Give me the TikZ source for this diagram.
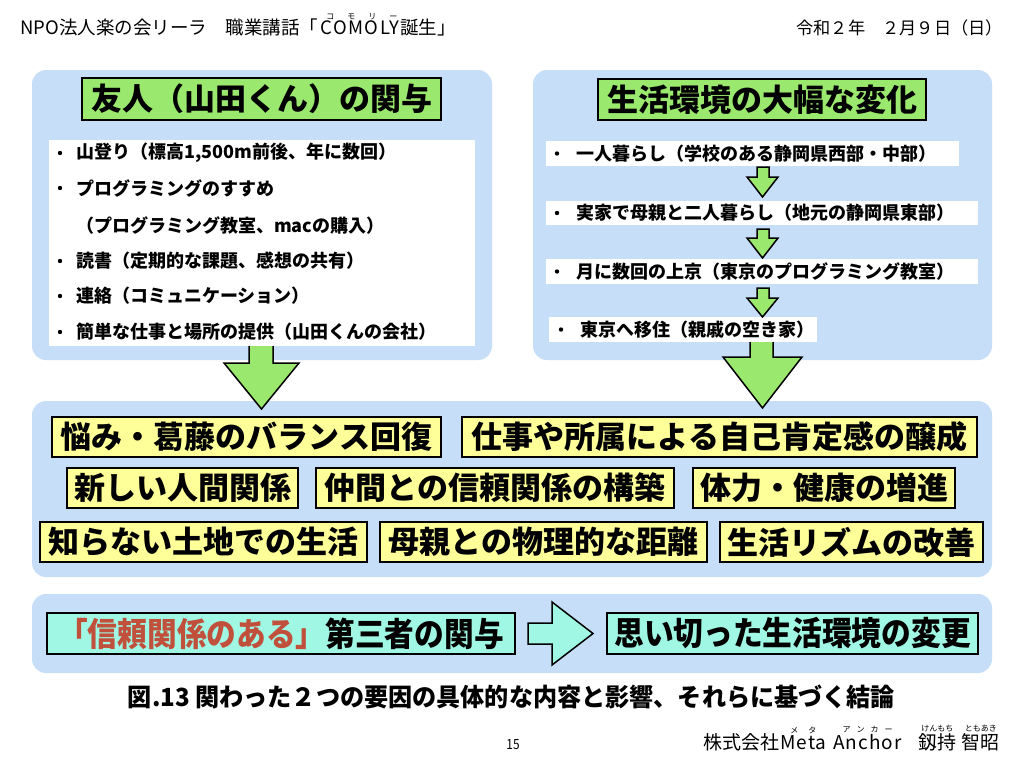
\documentclass[tikz,border=0pt]{standalone}
\usepackage{fontspec}
\setmainfont{Noto Sans CJK JP}
\usetikzlibrary{calc}
\definecolor{bluebg}{RGB}{198,222,247}
\definecolor{greenfill}{RGB}{155,232,110}
\definecolor{yel}{RGB}{255,255,153}
\definecolor{aqua}{RGB}{160,248,228}
\definecolor{redtxt}{RGB}{192,80,60}
\tikzset{
  panel/.style={fill=bluebg, rounded corners=14pt},
  titlebox/.style={draw=black, line width=2pt, fill=greenfill, inner sep=0pt, font=\bfseries\fontsize{31}{31}\selectfont},
  item/.style={anchor=west, inner sep=0pt, font=\bfseries\fontsize{18}{18}\selectfont},
  bul/.style={fill=black},
  ybox/.style={draw=black, line width=1.8pt, fill=yel, inner sep=0pt, minimum height=40pt, font=\bfseries\fontsize{31}{31}\selectfont},
  abox/.style={draw=black, line width=1.8pt, fill=aqua, inner sep=0pt, minimum height=41pt, font=\bfseries\fontsize{33}{33}\selectfont},
  garrow/.style={fill=greenfill, draw=black, line width=1.5pt, line join=miter},
  hdr/.style={inner sep=0pt, font=\fontsize{18.5}{18.5}\selectfont},
  datestyle/.style={inner sep=0pt, font=\fontsize{17.2}{17.2}\selectfont},
  foot/.style={inner sep=0pt, font=\fontsize{19}{19}\selectfont},
  ruby/.style={inner sep=1pt, font=\fontsize{8}{8}\selectfont},
}
\begin{document}
\begin{tikzpicture}[x=1pt,y=-1pt]
\useasboundingbox[fill=white] (0,0) rectangle (1024,768);

% header
\node[hdr, anchor=base west] (h1) at (20,35) {NPO法人楽の会リーラ　職業講話「};
\node[hdr, anchor=base west] (h2) at ($(h1.base east)+(2,0)$) {\addfontfeature{LetterSpace=8}COMOLY};
\node[hdr, anchor=base west] (h3) at (h2.base east) {誕生」};
\node[ruby, anchor=south west] (hr) at ($(h2.north west)+(5,0)$) {コ\hspace{13pt}モ\hspace{13pt}リ\hspace{13pt}ー};
\node[datestyle, anchor=base east] (date) at (1003,35) {令和２年　２月９日（日）};

% panels
\fill[panel] (32,70) rectangle (492,360);
\fill[panel] (533,70) rectangle (992,360);
\fill[panel] (32,401) rectangle (992,577);
\fill[panel] (32,594) rectangle (992,673);

% left panel
\node[titlebox, minimum width=359pt, minimum height=42pt] (t1) at (261.5,99) {友人（山田くん）の関与};
\fill[white] (49,140) rectangle (475,346);
\foreach \y in {153,188,261,296,332} \fill[bul] (60,\y) circle (2.2);
\node[item] (l1) at (76,153) {山登り（標高1,500m前後、年に数回）};
\node[item] (l2) at (76,188) {プログラミングのすすめ};
\node[item] (l3) at (76,226) {（プログラミング教室、macの購入）};
\node[item] (l4) at (76,261) {読書（定期的な課題、感想の共有）};
\node[item] (l5) at (76,296) {連絡（コミュニケーション）};
\node[item] (l6) at (76,332) {簡単な仕事と場所の提供（山田くんの会社）};

% right panel
\node[titlebox, minimum width=328pt, minimum height=41pt] (t2) at (762,99.5) {生活環境の大幅な変化};
\fill[white] (546,141) rectangle (959,166);
\fill[white] (546,201) rectangle (978,225);
\fill[white] (546,259) rectangle (978,284);
\fill[white] (549,317) rectangle (817,342);
\fill[bul] (557,153.5) circle (2.2);
\fill[bul] (557,213) circle (2.2);
\fill[bul] (557,271.5) circle (2.2);
\fill[bul] (561,329.5) circle (2.2);
\node[item] (r1) at (576,153.5) {一人暮らし（学校のある静岡県西部・中部）};
\node[item] (r2) at (576,213) {実家で母親と二人暮らし（地元の静岡県東部）};
\node[item] (r3) at (576,271.5) {月に数回の上京（東京のプログラミング教室）};
\node[item] (r4) at (580,329.5) {東京へ移住（親戚の空き家）};

% small arrows
\foreach \t/\b/\p in {167/177/197, 229/238/258, 288/298/317}
  \draw[garrow] (757,\t) -- (769,\t) -- (769,\b) -- (778,\b) -- (762.5,\p) -- (747,\b) -- (757,\b) -- cycle;

% big arrows
\fill[greenfill] (249,346) -- (249,363) -- (224,363) -- (261.5,409) -- (299,363) -- (273,363) -- (273,346) -- cycle;
\draw[garrow, fill=none] (249,346) -- (249,363) -- (224,363) -- (261.5,409) -- (299,363) -- (273,363) -- (273,346);
\fill[greenfill] (750,342) -- (750,357) -- (723,357) -- (762.5,408) -- (802,357) -- (773,357) -- (773,342) -- cycle;
\draw[garrow, fill=none] (750,342) -- (750,357) -- (723,357) -- (762.5,408) -- (802,357) -- (773,357) -- (773,342);

% yellow boxes
\node[ybox, minimum width=389pt] (y1) at (246.5,437) {悩み・葛藤のバランス回復};
\node[ybox, minimum width=515pt] (y2) at (719.5,437) {仕事や所属による自己肯定感の醸成};
\node[ybox, minimum width=231pt] (y3) at (182.5,488) {新しい人間関係};
\node[ybox, minimum width=358pt] (y4) at (495,488) {仲間との信頼関係の構築};
\node[ybox, minimum width=262pt] (y5) at (824,488) {体力・健康の増進};
\node[ybox, minimum width=327pt] (y6) at (203.5,542) {知らない土地での生活};
\node[ybox, minimum width=327pt] (y7) at (543.5,542) {母親との物理的な距離};
\node[ybox, minimum width=263pt] (y8) at (851.5,542) {生活リズムの改善};

% bottom
\node[abox, minimum width=468pt] (c1) at (281,633.5) {\scalebox{0.9}[1]{\textcolor{redtxt}{「信頼関係のある」}第三者の関与}};
\node[abox, minimum width=371pt] (c2) at (792.5,633.5) {\scalebox{0.9}[1]{思い切った生活環境の変更}};
\draw[fill=aqua, draw=black, line width=1.5pt, line join=miter] (528,623) -- (552,623) -- (552,602) -- (593,633.5) -- (552,665) -- (552,644) -- (528,644) -- cycle;

% caption
\node[inner sep=0pt, font=\bfseries\fontsize{25}{25}\selectfont] (cap) at (511.5,697) {\scalebox{0.965}[1]{図.13 関わった２つの要因の具体的な内容と影響、それらに基づく結論}};

% footer
\node[inner sep=0pt, font=\fontsize{14}{14}\selectfont] (pg) at (513,745) {\scalebox{0.85}[1]{15}};
\node[foot, anchor=base east] (f6) at (1000,749) {智昭};
\node[foot, anchor=base east] (f5) at ($(f6.base west)+(-5,0)$) {釼持};
\node[foot, anchor=base east] (f4) at ($(f5.base west)+(-16,0)$) {\addfontfeature{LetterSpace=6}Anchor};
\node[foot, anchor=base east] (f3) at ($(f4.base west)+(-6,0)$) {\addfontfeature{LetterSpace=6}Meta};
\node[foot, anchor=base east] (f2) at (f3.base west) {株式会社};
\node[ruby, anchor=south] (fr1) at (f3.north) {メ\hspace{10pt}タ};
\node[ruby, anchor=south] (fr2) at (f4.north) {ア\hspace{6pt}ン\hspace{6pt}カ\hspace{6pt}ー};
\node[ruby, anchor=south] (fr3) at (f5.north) {けんもち};
\node[ruby, anchor=south] (fr4) at (f6.north) {ともあき};
\end{tikzpicture}
\end{document}
